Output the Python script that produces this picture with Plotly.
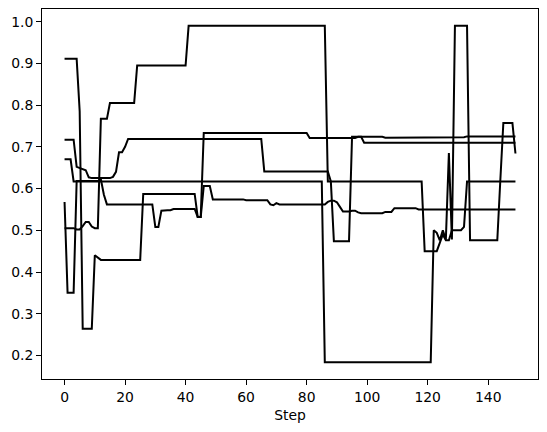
import plotly.graph_objects as go

steps = list(range(150))

# Run 1
run_a = ([0.911] * 5 + [0.785] + [0.264] * 4 + [0.44, 0.435] + [0.429] * 14 +
         [0.587] * 18 + [0.532] * 2 + [0.733] * 35 + [0.721] * 16 + [0.724] * 9 +
         [0.722] * 17 + [0.723] * 10 + [0.725] * 17)

# Run 2
run_b = ([0.568] + [0.35] * 3 + [0.618] * 8 + [0.622, 0.585] + [0.562] * 16 +
         [0.508] * 2 + [0.547] + [0.548] * 3 + [0.551] * 8 + [0.532] * 2 +
         [0.606] * 3 + [0.574] * 11 + [0.572] * 8 + [0.562, 0.560, 0.565] +
         [0.562] * 16 + [0.568] + [0.571] * 2 + [0.567, 0.556] + [0.545] * 3 +
         [0.547] * 2 + [0.543] + [0.541] * 8 + [0.544] * 3 + [0.553] * 8 +
         [0.550] * 33)

# Run 3
run_c = ([0.67] * 3 + [0.617] * 83 + [0.184] * 36 +
         [0.50, 0.494, 0.476, 0.50, 0.478, 0.685, 0.478] + [0.99] * 5 +
         [0.476] * 10 + [0.62] + [0.757] * 4 + [0.684])

# Run 4
run_d = ([0.717] * 4 + [0.652, 0.649, 0.647, 0.644, 0.627] + [0.625] * 7 +
         [0.628, 0.64] + [0.687] * 2 + [0.70] + [0.719] * 45 + [0.641] * 22 +
         [0.617] + [0.474] * 6 + [0.724] * 4 + [0.710] * 51)

# Run 5
run_e = ([0.505] * 4 + [0.502] * 2 + [0.51] + [0.52] * 2 + [0.509] + [0.505] * 2 +
         [0.767] * 3 + [0.805] * 9 + [0.895] * 17 + [0.99] * 46 + [0.617] * 32 +
         [0.45] * 5 + [0.47, 0.49, 0.476, 0.476] + [0.50] * 4 + [0.508] +
         [0.617] * 17)

x_ticks = [0, 20, 40, 60, 80, 100, 120, 140]
y_ticks = [0.2, 0.3, 0.4, 0.5, 0.6, 0.7, 0.8, 0.9, 1.0]
y_tick_labels = ["0.2", "0.3", "0.4", "0.5", "0.6", "0.7", "0.8", "0.9", "1.0"]

fig = go.Figure()
for series in [run_a, run_b, run_c, run_d, run_e]:
    fig.add_trace(go.Scatter(x=steps, y=series, mode="lines",
                             line=dict(color="black", width=2),
                             showlegend=False, hoverinfo="skip"))

font = dict(family="DejaVu Sans", size=13.9, color="black")
axis_common = dict(showline=True, linecolor="black", linewidth=1, mirror=True,
                   ticks="outside", ticklen=5, tickwidth=1, tickcolor="black",
                   showgrid=False, zeroline=False, tickfont=font)

fig.update_layout(
    width=547, height=432,
    margin=dict(l=42, r=9, t=9, b=53),
    paper_bgcolor="white", plot_bgcolor="white",
    font=font,
    xaxis=dict(range=[-7.45, 156.45], tickvals=x_ticks,
               title=dict(text="Step", font=font, standoff=6), **axis_common),
    yaxis=dict(range=[0.1436, 1.0303], tickvals=y_ticks, ticktext=y_tick_labels,
               **axis_common),
)

fig.write_html("out.html")
